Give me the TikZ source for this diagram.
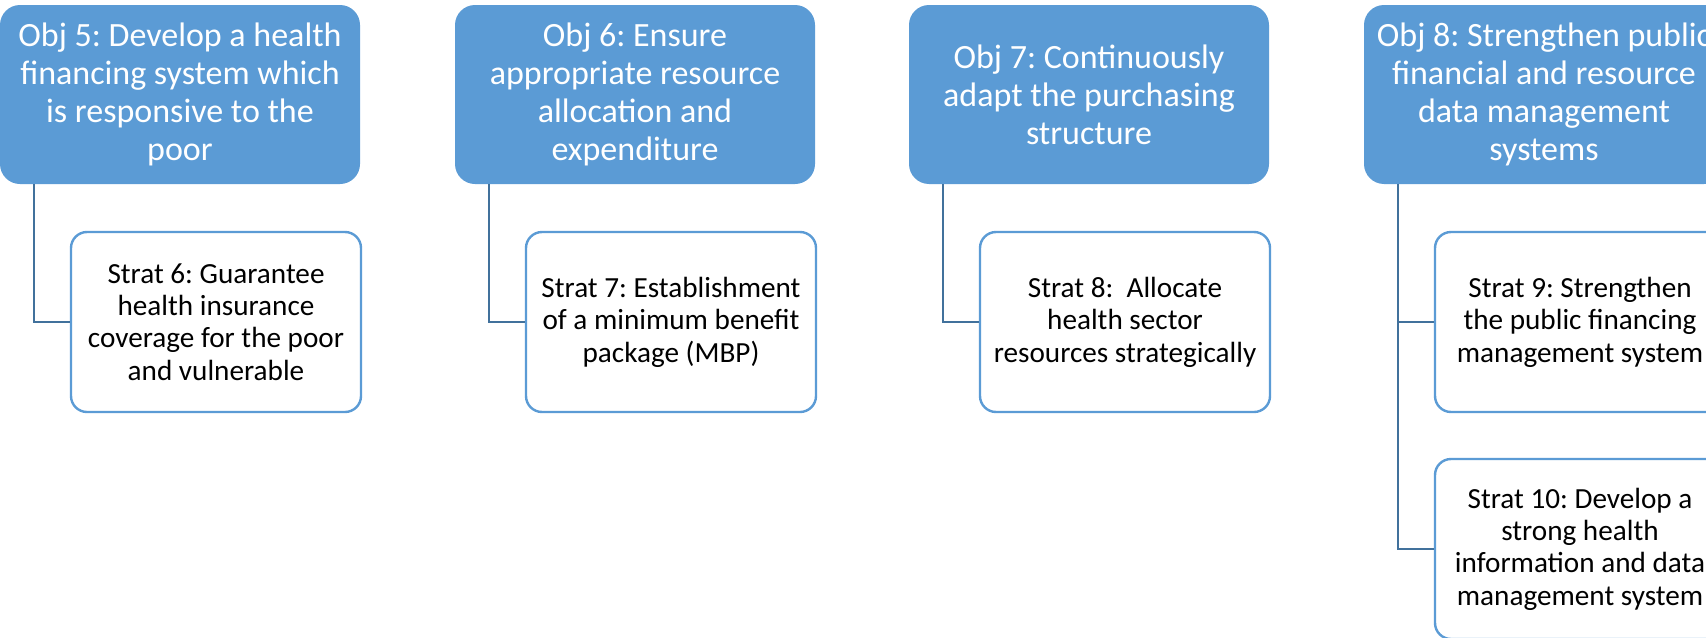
\documentclass[tikz,border=0pt]{standalone}
\usepackage{fontspec}
\setmainfont{Carlito}
\definecolor{objblue}{HTML}{5B9BD5}
\definecolor{linkblue}{HTML}{41719C}
\begin{document}
\frenchspacing
\begin{tikzpicture}[x=0.5pt,y=-0.5pt,
  objbox/.style={rounded corners=10pt, fill=objblue, text=white,
    minimum width=180pt, minimum height=89.5pt, align=center,
    font=\fontsize{17}{19}\selectfont, inner sep=0pt},
  stratbox/.style={rounded corners=8pt, draw=objblue, line width=1.2pt, fill=white,
    minimum width=145pt, minimum height=90pt, align=center,
    font=\fontsize{14.6}{16.2}\selectfont, inner sep=0pt},
  link/.style={draw=linkblue, line width=1.1pt}]
\useasboundingbox (0,0) rectangle (1706,637);
\clip (0,0) rectangle (1706,637);

% objectives
\node[objbox] (o5) at (180,94.5) {Obj 5: Develop a health\\financing system which\\is responsive to the\\poor};
\node[objbox] (o6) at (635,94.5) {Obj 6: Ensure\\appropriate resource\\allocation and\\expenditure};
\node[objbox] (o7) at (1089,94.5) {Obj 7: Continuously\\adapt the purchasing\\structure};
\node[objbox] (o8) at (1544,94.5) {Obj 8: Strengthen public\\financial and resource\\data management\\systems};

% strategies
\node[stratbox] (s6) at (216,322) {Strat 6: Guarantee\\health insurance\\coverage for the poor\\and vulnerable};
\node[stratbox] (s7) at (671,322) {Strat 7: Establishment\\of a minimum benefit\\package (MBP)};
\node[stratbox] (s8) at (1125,322) {Strat 8:\ \ Allocate\\health sector\\resources strategically};
\node[stratbox] (s9) at (1580,322) {Strat 9: Strengthen\\the public financing\\management system};
\node[stratbox] (s10) at (1580,549) {Strat 10: Develop a\\strong health\\information and data\\management system};

% connectors
\draw[link] ([xshift=17pt]o5.south west) |- (s6.west);
\draw[link] ([xshift=17pt]o6.south west) |- (s7.west);
\draw[link] ([xshift=17pt]o7.south west) |- (s8.west);
\draw[link] ([xshift=17pt]o8.south west) |- (s9.west);
\draw[link] ([xshift=17pt]o8.south west) |- (s10.west);
\end{tikzpicture}
\end{document}
